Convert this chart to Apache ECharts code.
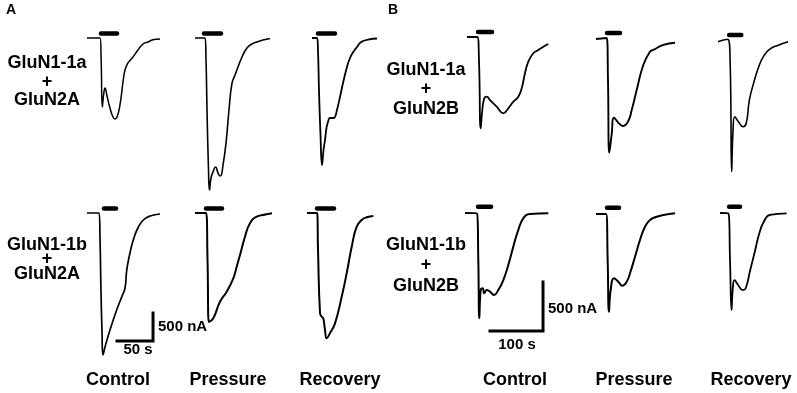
<!DOCTYPE html>
<html><head><meta charset="utf-8">
<script src="https://cdn.jsdelivr.net/npm/echarts@6/dist/echarts.min.js"></script>
<style>html,body{margin:0;padding:0;background:#fff}#c{width:797px;height:393px}</style>
</head><body><div id="c"></div>
<script>
// ---- Data: time (s) and current (nA) ----
// Panel A: GluN1-1a/1b + GluN2A
const A_1a_control   = [[0,0],[18.1,0],[19.6,-350],[21.3,-1232],[23.2,-1000],[25,-893],[27.8,-1036],[31.9,-1250],[36.1,-1411],[38.9,-1446],[41.7,-1411],[45.8,-1196],[50,-786],[52.8,-571],[56.9,-446],[60.4,-393],[63.9,-339],[70.8,-214],[77.8,-107],[84.7,-71],[93,-27],[101.4,-18]];
const A_1a_pressure  = [[0,0],[13.9,0],[15.3,-393],[16.7,-1286],[18.75,-2357],[20.1,-2714],[22.2,-2500],[25,-2393],[28.5,-2304],[32.6,-2429],[35.4,-2464],[38.9,-2268],[43.1,-1875],[47.2,-1286],[51.4,-804],[55.6,-661],[59.7,-518],[65.3,-339],[72.2,-179],[79.2,-107],[86.1,-71],[94.4,-36],[104.2,-9]];
const A_1a_recovery  = [[0,0],[6.9,0],[8.3,-214],[9.7,-929],[11.8,-1732],[13.9,-2268],[16,-2000],[18.1,-1821],[20.1,-1607],[22.2,-1500],[25,-1429],[29.2,-1429],[31.9,-1411],[34.7,-1286],[38.9,-1054],[43.1,-804],[48.6,-518],[52.8,-357],[58.3,-232],[62.5,-161],[66.7,-89],[70.8,-54],[77.8,-27],[90.3,-9]];
const A_1b_control   = [[0,0],[16.7,0],[18.1,-482],[19.4,-1375],[20.8,-2089],[22.2,-2536],[25,-2393],[31.9,-2089],[41.2,-1732],[48.2,-1500],[52.8,-1339],[55.2,-1018],[59.7,-714],[64.3,-482],[71.3,-250],[78.2,-125],[87.5,-54],[101.4,-18]];
const A_1b_pressure  = [[0,0],[15.3,0],[17.4,-839],[19.4,-1946],[25.4,-1880],[34.7,-1584],[44,-1405],[53.2,-1166],[57.9,-959],[62.5,-750],[69.4,-423],[76.4,-184],[85.7,-66],[99.6,-23],[106.9,-5]];
const A_1b_recovery  = [[0,0],[13.9,0],[15.3,-661],[18.1,-1791],[20.4,-1852],[22.6,-1880],[25,-2089],[27.4,-2237],[31.9,-2148],[38.9,-1970],[48.2,-1495],[55.1,-1077],[62.1,-602],[69,-245],[76,-125],[82.9,-77],[92.1,-54]];
// Panel B: GluN1-1a/1b + GluN2B
const B_1a_control   = [[0,0],[19.4,0],[22.6,-235],[25.8,-932],[28.9,-745],[32.6,-626],[37.2,-609],[43.4,-643],[56,-711],[68.5,-779],[77.9,-728],[87.4,-660],[96.8,-609],[103.2,-523],[109.4,-370],[115.7,-252],[125.1,-166],[134.5,-133],[144,-99],[153.4,-71]];
const B_1a_pressure  = [[0,-10],[20.2,0],[22.6,-429],[25.1,-1170],[29.6,-983],[34,-813],[42.1,-864],[51.5,-898],[61,-847],[67.4,-735],[76.8,-531],[89.2,-276],[101.9,-140],[108.1,-122],[127,-71],[149,-48]];
const B_1a_recovery  = [[0,-17],[19.4,7],[24.5,-204],[27.7,-1344],[30.2,-952],[34,-783],[41.5,-834],[50.9,-885],[57.2,-850],[63.6,-612],[73,-425],[82.5,-272],[91.9,-170],[104.3,-95],[123.2,-51],[142,-17]];
const B_1b_control   = [[0,0],[22.6,-5],[25.1,-480],[27,-1074],[29.6,-786],[33.4,-768],[36.4,-819],[40.9,-786],[47.2,-803],[54.7,-837],[62.8,-786],[72.3,-684],[81.7,-531],[91.1,-344],[100.6,-173],[110,-54],[122.6,-10],[157.2,-3]];
const B_1b_pressure  = [[0,0],[18.9,0],[22,-469],[24.5,-997],[27.7,-776],[34,-656],[42.1,-691],[49.6,-732],[57.9,-691],[64.2,-605],[73.6,-436],[83,-265],[92.5,-130],[101.9,-61],[114.5,-28],[127,-10],[149,7]];
const B_1b_recovery  = [[0,0],[17.5,-5],[20.8,-480],[24,-990],[26.4,-786],[30.2,-684],[37.7,-735],[47.2,-786],[53.4,-768],[62.8,-582],[72.3,-395],[81.7,-207],[91.1,-89],[103.8,-20],[138.3,-3]];
// Agonist application bars: [start s, end s]
const A_bars = [[19.4,41.7],[12.5,36.1],[8.3,31.9],[23.6,40.3],[15.3,37.5],[13.9,37.5]];
const B_bars = [[20.8,47.2],[20.8,45.3],[22.6,47.2],[24.5,49.1],[20.8,43.4],[18.9,41.5]];
// Scale bars: [seconds, nA]
const A_scale = [50, 500];
const B_scale = [100, 500];
const conditions = ['Control','Pressure','Recovery'];
const A_rows = [['GluN1-1a','+','GluN2A'],['GluN1-1b','+','GluN2A']];
const B_rows = [['GluN1-1a','+','GluN2B'],['GluN1-1b','+','GluN2B']];

// ---- Layout ----
const panelA = {pxS:0.72, pxN:0.056, xMax:120, yMin:-2900, yMax:200, barLevel:[80,80],
  lefts:[[87,195,312],[87,195,307]], bases:[[38,38,38],[213,213,213]],
  traces:[[A_1a_control,A_1a_pressure,A_1a_recovery],[A_1b_control,A_1b_pressure,A_1b_recovery]], bars:A_bars,
  widths:[[1.5,1.6,1.8],[1.7,2.0,2.0]],
  scale:A_scale, scaleAt:[41.7,-2286]};
const panelB = {pxS:0.53, pxN:0.098, xMax:160, yMin:-1500, yMax:150, barLevel:[50,65],
  lefts:[[467,596,718],[465,596,720]], bases:[[37,38,40],[213,214,213]],
  traces:[[B_1a_control,B_1a_pressure,B_1a_recovery],[B_1b_control,B_1b_pressure,B_1b_recovery]], bars:B_bars,
  widths:[[1.8,1.9,1.6],[2.0,2.0,1.8]],
  scale:B_scale, scaleAt:[47.2,-1204]};

const grid=[], xAxis=[], yAxis=[], series=[];
function addPanel(P){
  for(let r=0;r<2;r++) for(let c=0;c<3;c++){
    const gi=grid.length;
    grid.push({left:P.lefts[r][c], top:P.bases[r][c]-P.yMax*P.pxN, width:P.xMax*P.pxS, height:(P.yMax-P.yMin)*P.pxN});
    xAxis.push({type:'value',gridIndex:gi,min:0,max:P.xMax,show:false});
    yAxis.push({type:'value',gridIndex:gi,min:P.yMin,max:P.yMax,show:false});
    series.push({type:'line',xAxisIndex:gi,yAxisIndex:gi,data:P.traces[r][c],showSymbol:false,symbol:'none',
      smooth:0.5,lineStyle:{color:'#000',width:P.widths[r][c],join:'round'},clip:false,silent:true});
    const b=P.bars[r*3+c];
    series.push({type:'line',xAxisIndex:gi,yAxisIndex:gi,data:[[b[0],P.barLevel[r]],[b[1],P.barLevel[r]]],showSymbol:false,symbol:'none',
      lineStyle:{color:'#000',width:4.5,cap:'round'},clip:false,silent:true});
    if(r===1&&c===0){
      const [t0,i0]=P.scaleAt;
      series.push({type:'line',xAxisIndex:gi,yAxisIndex:gi,data:[[t0,i0],[t0+P.scale[0],i0],[t0+P.scale[0],i0+P.scale[1]]],
        showSymbol:false,symbol:'none',lineStyle:{color:'#000',width:3,cap:'square',join:'miter'},clip:false,silent:true});
    }
  }
}
addPanel(panelA); addPanel(panelB);

const F='"Liberation Sans", Arial, sans-serif';
function txt(s,x,y,size,align){return {type:'text',x:x,y:y,style:{text:s,fill:'#000',font:'bold '+size+'px '+F,textAlign:align||'center',textVerticalAlign:'middle'}};}
const graphic=[];
graphic.push(txt('A',11,10,14));
graphic.push(txt('B',393,10,14));
const aRowY=[[63,82,100],[245,259,274]], bRowY=[[70,89,109],[245,265,286]];
for(let r=0;r<2;r++) for(let k=0;k<3;k++){
  graphic.push(txt(A_rows[r][k],47,aRowY[r][k],18));
  graphic.push(txt(B_rows[r][k],426,bRowY[r][k],18));
}
const aColX=[118,228,340], bColX=[515,634,751];
for(let c=0;c<3;c++){graphic.push(txt(conditions[c],aColX[c],380,18));graphic.push(txt(conditions[c],bColX[c],380,18));}
graphic.push(txt(A_scale[1]+' nA',158,327,15,'left'));
graphic.push(txt(A_scale[0]+' s',138,350,15));
graphic.push(txt(B_scale[1]+' nA',548,309,15,'left'));
graphic.push(txt(B_scale[0]+' s',517,345,15));

const chart=echarts.init(document.getElementById('c'),null,{renderer:'canvas'});
chart.setOption({animation:false,backgroundColor:'#fff',grid,xAxis,yAxis,series,graphic});
</script></body></html>
